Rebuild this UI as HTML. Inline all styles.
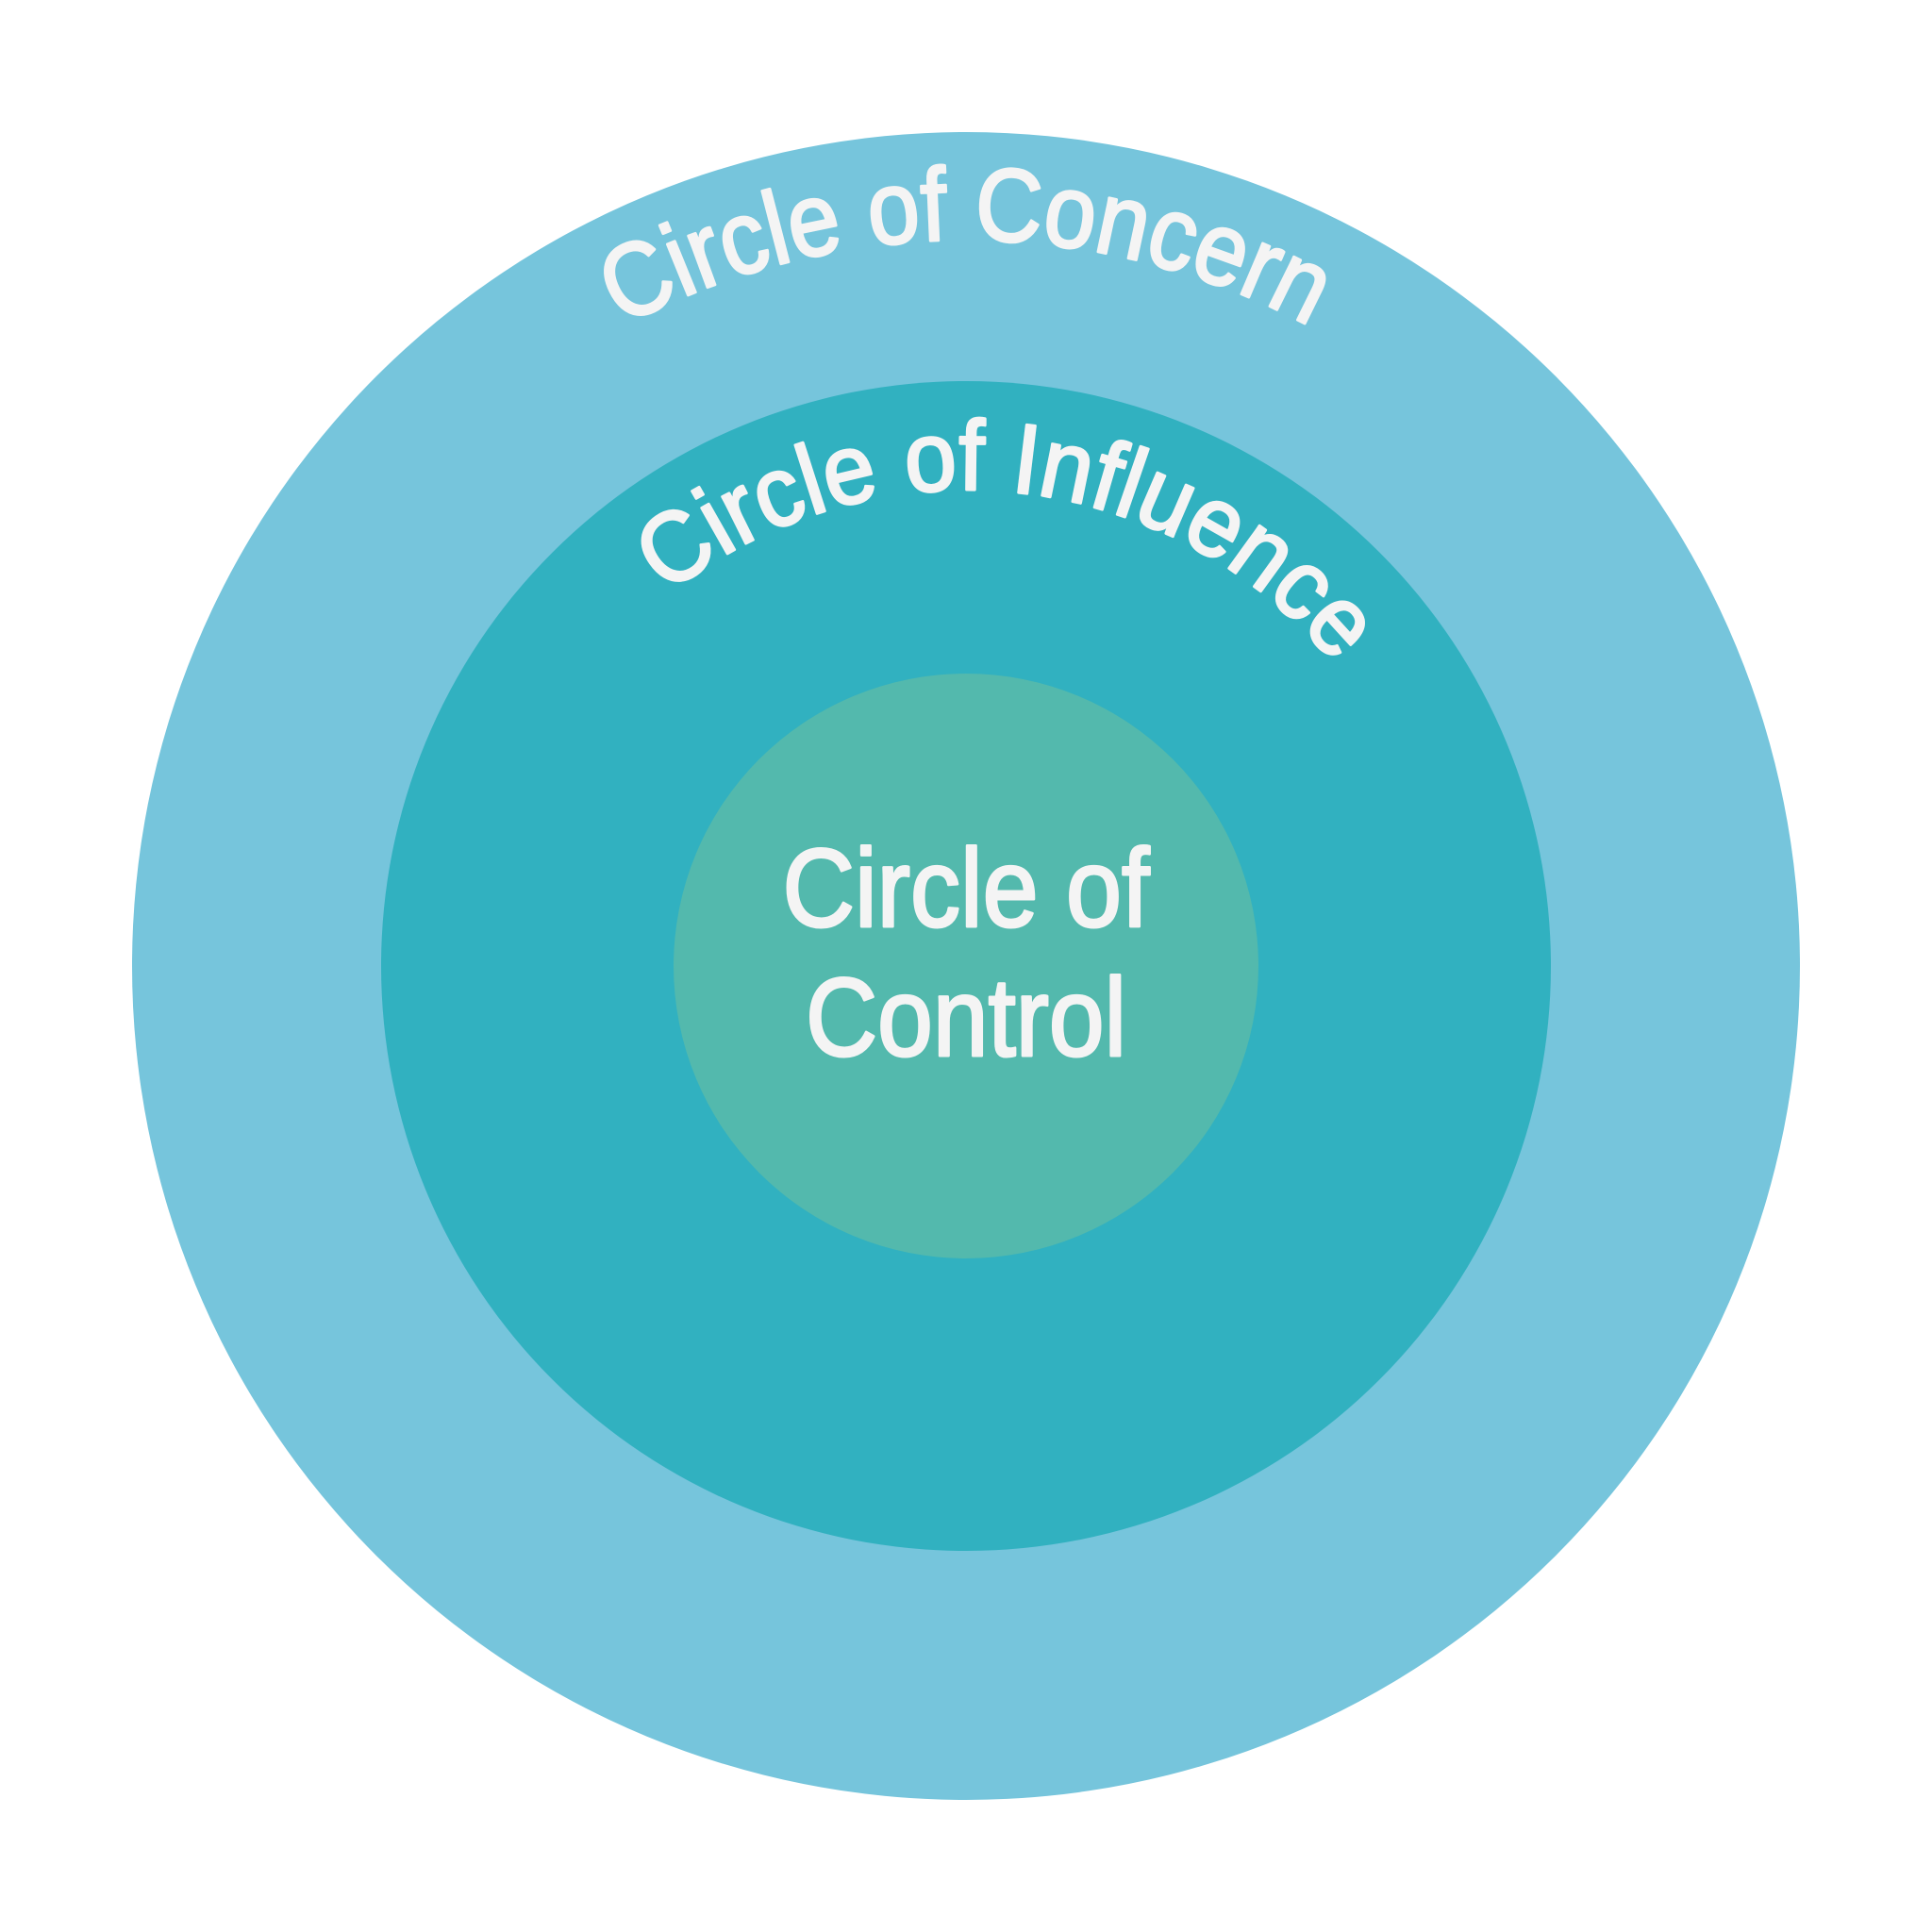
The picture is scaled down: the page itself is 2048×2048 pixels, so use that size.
<!DOCTYPE html>
<html><head><meta charset="utf-8"><style>html,body{margin:0;padding:0;background:#fff}svg{display:block}</style></head>
<body>
<svg width="2048" height="2048" viewBox="0 0 2048 2048" xmlns="http://www.w3.org/2000/svg">
<defs>
<path id="p1" d="M 254 1024 A 770 770 0 0 1 1794 1024"/>
<path id="p2" d="M 519 1024 A 505 505 0 0 1 1529 1024"/>
</defs>
<circle cx="1024" cy="1024" r="884" fill="#76C5DC"/>
<circle cx="1024" cy="1024" r="620" fill="#31B1C0"/>
<circle cx="1024" cy="1024" r="310" fill="#53B9AD"/>
<g font-family="Liberation Sans, sans-serif" fill="#f4f4f4" stroke="#f4f4f4" stroke-width="3" stroke-linejoin="round">
<text font-size="110"><textPath href="#p1" startOffset="50%" text-anchor="middle" textLength="760" lengthAdjust="spacingAndGlyphs">Circle of Concern</textPath></text>
<text font-size="105"><textPath href="#p2" startOffset="53.3%" text-anchor="middle" textLength="790" lengthAdjust="spacingAndGlyphs">Circle of Influence</textPath></text>
<text x="1024" y="982" font-size="118" text-anchor="middle" textLength="389" lengthAdjust="spacingAndGlyphs">Circle of</text>
<text x="1024" y="1119" font-size="118" text-anchor="middle" textLength="340" lengthAdjust="spacingAndGlyphs">Control</text>
</g>
</svg>
</body></html>
